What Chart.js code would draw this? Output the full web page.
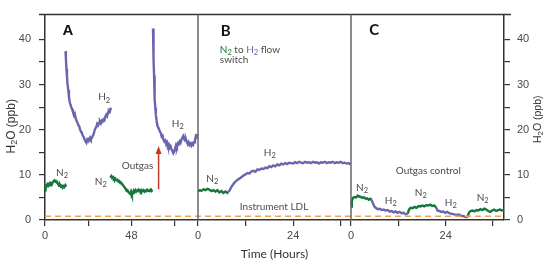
<!DOCTYPE html>
<html><head><meta charset="utf-8">
<script src="https://cdn.jsdelivr.net/npm/chart.js@4.4.0/dist/chart.umd.min.js"></script>
<style>html,body{margin:0;padding:0;background:#fff}#wrap{width:544px;height:261px;position:relative}</style>
</head><body><div id="wrap"><canvas id="c" width="544" height="261"></canvas></div>
<script>
// ---------- DATA ----------
const panelNames = ['A', 'B', 'C'];
const panelSpanHours = [85, 38.6, 38.8];
const xTickHours = [[0, 24, 48, 72], [0, 12, 24, 36], [0, 12, 24, 36]];
const xTickLabels = [['0', '', '48', ''], ['0', '', '24', ''], ['0', '', '24', '']];
const yTickValues = [0, 5, 10, 15, 20, 25, 30, 35, 40];
const yTickLabels = ['0', '', '10', '', '20', '', '30', '', '40'];
const instrumentLDL = 0.85;

// [hours, H2O ppb]
const A_N2_run1 = [[0,6.6],[0.3,7.6],[0.8,7.4],[1.3,7.9],[1.8,7.6],[2.3,8.0],[2.8,7.7],[3.3,8.1],[3.8,7.9],[4.3,8.4],[4.8,8.6],[5.3,8.8],[5.8,8.5],[6.3,8.6],[6.8,8.2],[7.3,8.0],[7.8,7.6],[8.3,7.8],[8.8,7.4],[9.3,7.6],[9.8,7.2],[10.3,7.5],[10.8,7.3],[11.3,7.7],[11.8,7.4]];
const A_H2_run1 = [[11.4,37.4],[11.6,35.8],[11.9,33.5],[12.2,31.8],[12.5,30.2],[12.9,28.8],[13.3,27.3],[13.7,26.2],[14.1,25.6],[14.6,25.0],[15.0,24.6],[15.5,24.0],[16.0,23.3],[16.5,23.6],[17.0,22.6],[17.5,22.0],[18.0,21.6],[18.5,21.0],[19.0,20.8],[19.5,20.0],[20.0,19.6],[20.5,19.2],[21.0,18.7],[21.5,18.4],[22.0,17.8],[22.5,17.4],[23.0,17.1],[23.5,17.8],[24.0,17.5],[24.5,18.0],[25.0,18.3],[25.5,17.9],[26.0,18.2],[26.5,18.6],[27.0,19.0],[27.5,19.8],[28.0,20.3],[28.5,20.6],[29.0,21.3],[29.5,21.0],[30.0,21.5],[30.5,21.8],[31.0,21.4],[31.5,22.0],[32.0,21.8],[32.5,22.3],[33.0,22.1],[33.5,22.9],[34.0,23.3],[34.5,23.0],[35.0,23.8],[35.5,24.2],[36.0,24.0],[36.6,24.9]];
const A_N2_run2 = [[36.3,9.4],[36.8,9.7],[37.3,9.3],[37.8,9.5],[38.3,9.1],[38.8,9.3],[39.3,9.0],[39.8,8.8],[40.3,8.9],[40.8,8.5],[41.3,8.6],[41.8,8.2],[42.3,8.3],[42.8,7.9],[43.3,7.8],[43.8,7.4],[44.3,7.2],[44.8,6.9],[45.3,6.5],[45.8,6.6],[46.3,6.2],[46.8,6.0],[47.3,5.8],[47.8,6.3],[48.3,5.6],[48.8,5.9],[49.3,6.5],[49.8,6.2],[50.3,6.6],[50.8,6.3],[51.3,6.5],[51.8,6.7],[52.3,6.4],[52.8,6.6],[53.3,6.3],[53.8,6.6],[54.3,6.4],[54.8,6.6],[55.3,6.3],[55.8,6.5],[56.3,6.4],[56.8,6.7],[57.3,6.5],[57.8,6.4],[58.3,6.6],[58.8,6.8],[59.3,6.5],[59.6,6.7]];
const A_H2_run2 = [[60.0,42.4],[60.2,39.0],[60.4,35.5],[60.6,32.0],[60.8,29.0],[61.0,26.8],[61.3,24.8],[61.6,23.3],[62.0,22.0],[62.4,21.0],[62.8,20.5],[63.3,20.2],[63.8,19.6],[64.3,19.3],[64.8,18.5],[65.3,18.7],[65.8,17.8],[66.3,17.4],[66.8,17.6],[67.3,16.8],[67.8,17.2],[68.3,16.4],[68.8,16.7],[69.3,16.0],[69.8,16.3],[70.3,15.6],[70.8,15.3],[71.3,14.8],[71.8,15.2],[72.3,15.9],[72.8,16.6],[73.3,16.2],[73.8,17.0],[74.3,16.8],[74.8,17.4],[75.3,17.1],[75.8,17.8],[76.3,18.2],[76.8,18.6],[77.3,18.0],[77.8,17.6],[78.3,17.9],[78.8,17.3],[79.3,16.8],[79.8,17.2],[80.3,16.6],[80.8,16.9],[81.3,16.5],[81.8,17.0],[82.3,16.7],[82.8,17.2],[83.3,17.6],[83.8,18.6],[84.3,18.4],[84.8,19.0]];
const B_N2 = [[0,6.3],[0.4,6.6],[0.9,6.5],[1.4,6.8],[1.9,6.6],[2.4,6.9],[2.9,6.7],[3.4,6.4],[3.9,6.6],[4.4,6.3],[4.9,6.6],[5.4,6.1],[5.9,6.4],[6.4,6.0],[6.9,6.3],[7.4,6.0],[7.6,6.2]];
const B_H2 = [[7.6,6.2],[8.0,6.6],[8.4,7.3],[8.8,7.8],[9.2,8.3],[9.6,8.6],[10.0,8.9],[10.5,9.2],[11.0,9.5],[11.5,9.9],[12.0,10.1],[12.5,10.4],[13.0,10.3],[13.5,10.8],[14.0,10.9],[14.5,10.7],[15.0,11.2],[15.5,11.1],[16.0,11.4],[16.5,11.3],[17.0,11.6],[17.5,11.5],[18.0,11.9],[18.5,11.7],[19.0,12.1],[19.5,11.9],[20.0,12.3],[20.5,12.1],[21.0,12.5],[21.5,12.3],[22.0,12.6],[22.5,12.4],[23.0,12.7],[23.5,12.6],[24.0,12.5],[24.5,12.8],[25.0,12.6],[25.5,12.9],[26.0,12.7],[26.5,12.6],[27.0,12.9],[27.5,12.7],[28.0,12.8],[28.5,12.6],[29.0,12.9],[29.5,12.7],[30.0,12.8],[30.5,12.5],[31.0,12.8],[31.5,12.7],[32.0,12.9],[32.5,12.6],[33.0,12.8],[33.5,12.7],[34.0,12.9],[34.5,12.6],[35.0,12.8],[35.5,12.7],[36.0,12.9],[36.5,12.6],[37.0,12.7],[37.5,12.5],[38.0,12.6],[38.5,12.3]];
const C_N2_run1 = [[0,3.0],[0.2,4.2],[0.5,4.9],[0.9,5.1],[1.3,5.0],[1.7,5.4],[2.1,5.2],[2.5,5.1],[2.9,4.9],[3.3,5.0],[3.7,4.7],[4.1,4.8],[4.5,4.5],[4.9,4.7],[5.2,4.5]];
const C_H2_run1 = [[5.2,4.5],[5.6,3.6],[6.0,2.9],[6.4,2.6],[6.8,2.4],[7.3,2.5],[7.8,2.2],[8.3,2.3],[8.8,2.1],[9.3,2.2],[9.8,1.9],[10.3,2.0],[10.8,1.7],[11.3,1.9],[11.8,1.6],[12.3,1.8],[12.8,1.5],[13.3,1.6],[13.8,1.3],[14.4,1.4]];
const C_N2_run2 = [[14.4,1.4],[14.7,2.3],[15.1,2.7],[15.6,2.6],[16.1,2.9],[16.6,2.7],[17.1,3.1],[17.6,3.0],[18.1,3.2],[18.6,3.0],[19.1,3.3],[19.6,3.2],[20.1,3.4],[20.6,3.1],[21.1,3.2],[21.6,2.8]];
const C_H2_run2 = [[21.6,2.8],[21.9,2.1],[22.4,2.0],[22.9,1.8],[23.4,1.9],[23.9,1.6],[24.4,1.8],[24.9,1.5],[25.4,1.4],[25.9,1.3],[26.4,1.2],[26.9,1.1],[27.4,1.2],[27.9,0.9],[28.4,0.9],[28.9,0.7],[29.5,0.6]];
const C_N2_run3 = [[29.5,0.6],[29.9,1.6],[30.3,2.0],[30.8,2.1],[31.3,1.9],[31.8,2.2],[32.3,2.1],[32.8,2.4],[33.3,2.2],[33.8,2.5],[34.3,2.3],[34.8,2.0],[35.3,1.8],[35.8,2.1],[36.3,2.3],[36.8,2.0],[37.3,2.2],[37.8,2.3],[38.3,2.1],[38.8,2.2]];
// outgas arrow in panel A: [hours, from ppb, to ppb]
const outgasArrow = [63.1, 6.8, 16.4];

// ---------- STYLE / LAYOUT ----------
const COL_H2 = '#6966af', COL_N2 = '#17763b', COL_LDL = '#f2a24e', COL_TXT = '#4a4a4a', COL_AX = '#333';
function toX(panel, h) { return panel + h / panelSpanHours[panel]; }
const series = [
  [0, A_N2_run1, COL_N2], [0, A_H2_run1, COL_H2], [0, A_N2_run2, COL_N2], [0, A_H2_run2, COL_H2],
  [1, B_N2, COL_N2], [1, B_H2, COL_H2],
  [2, C_N2_run1, COL_N2], [2, C_H2_run1, COL_H2], [2, C_N2_run2, COL_N2], [2, C_H2_run2, COL_H2], [2, C_N2_run3, COL_N2]
];
const datasets = series.map(([p, d, c]) => ({
  data: d.map(([h, v]) => ({x: toX(p, h), y: v})),
  borderColor: c, borderWidth: 2.4, pointRadius: 0, tension: 0, fill: false, clip: 2
}));
datasets.unshift({data: [{x: 0, y: instrumentLDL}, {x: 3, y: instrumentLDL}], borderColor: COL_LDL, borderWidth: 1.5, borderDash: [6, 4], pointRadius: 0});

const xTicks = [], xLabels = [];
xTickHours.forEach((arr, p) => arr.forEach((h, i) => { xTicks.push(toX(p, h)); xLabels.push(xTickLabels[p][i]); }));

const S = (t) => ({t, sub: true});
const annotations = [
  {p: 0, h: 12.8, v: 42.0, parts: [{t: 'A'}], font: 'bold 15px "Liberation Sans"', color: '#111'},
  {p: 1, h: 7.0, v: 41.8, parts: [{t: 'B'}], font: 'bold 15px Lato', color: '#111'},
  {p: 2, h: 5.9, v: 42.1, parts: [{t: 'C'}], font: 'bold 15px Lato', color: '#111'},
  {p: 0, h: 32.9, v: 27.2, parts: [{t: 'H'}, S('2')]},
  {p: 0, h: 73.8, v: 21.3, parts: [{t: 'H'}, S('2')]},
  {p: 0, h: 9.5, v: 10.4, parts: [{t: 'N'}, S('2')]},
  {p: 0, h: 31.0, v: 8.5, parts: [{t: 'N'}, S('2')]},
  {p: 0, h: 51.4, v: 11.9, parts: [{t: 'Outgas'}]},
  {p: 1, h: 5.5, v: 37.7, align: 'left', parts: [{t: 'N', c: COL_N2}, {t: '2', sub: true, c: COL_N2}, {t: ' to '}, {t: 'H', c: COL_H2}, {t: '2', sub: true, c: COL_H2}, {t: ' flow'}]},
  {p: 1, h: 5.5, v: 35.6, align: 'left', parts: [{t: 'switch'}]},
  {p: 1, h: 3.6, v: 9.1, parts: [{t: 'N'}, S('2')]},
  {p: 1, h: 18.1, v: 14.9, parts: [{t: 'H'}, S('2')]},
  {p: 1, h: 19.2, v: 3.0, parts: [{t: 'Instrument LDL'}]},
  {p: 2, h: 19.6, v: 10.9, parts: [{t: 'Outgas control'}]},
  {p: 2, h: 2.8, v: 7.1, parts: [{t: 'N'}, S('2')]},
  {p: 2, h: 10.1, v: 4.3, parts: [{t: 'H'}, S('2')]},
  {p: 2, h: 17.7, v: 6.0, parts: [{t: 'N'}, S('2')]},
  {p: 2, h: 25.3, v: 3.8, parts: [{t: 'H'}, S('2')]},
  {p: 2, h: 33.4, v: 4.9, parts: [{t: 'N'}, S('2')]}
];

function drawRich(ctx, parts, x, y, align, font, subFont, color, subDy) {
  let w = 0;
  parts.forEach(pt => { ctx.font = pt.sub ? subFont : font; w += ctx.measureText(pt.t).width; });
  let cx = align === 'left' ? x : x - w / 2;
  ctx.textBaseline = 'middle'; ctx.textAlign = 'left';
  parts.forEach(pt => {
    ctx.font = pt.sub ? subFont : font;
    ctx.fillStyle = pt.c || color;
    ctx.fillText(pt.t, cx, pt.sub ? y + (subDy || 3) : y);
    cx += ctx.measureText(pt.t).width;
  });
}

const overlay = {
  id: 'overlay',
  afterDraw(chart) {
    const ctx = chart.ctx, a = chart.chartArea, xs = chart.scales.x, ys = chart.scales.y;
    ctx.save();
    // top frame
    ctx.strokeStyle = COL_AX; ctx.lineWidth = 1.5;
    ctx.beginPath(); ctx.moveTo(a.left - 6, a.top); ctx.lineTo(a.right + 7, a.top); ctx.stroke();
    // panel dividers
    ctx.strokeStyle = '#666'; ctx.lineWidth = 1.5;
    [1, 2].forEach(v => { const px = xs.getPixelForValue(v); ctx.beginPath(); ctx.moveTo(px, a.top); ctx.lineTo(px, a.bottom); ctx.stroke(); });
    // arrow
    const ax = xs.getPixelForValue(toX(0, outgasArrow[0])), ay0 = ys.getPixelForValue(outgasArrow[1]), ay1 = ys.getPixelForValue(outgasArrow[2]);
    ctx.strokeStyle = '#c23a2c'; ctx.fillStyle = '#c23a2c'; ctx.lineWidth = 1.5;
    ctx.beginPath(); ctx.moveTo(ax, ay0); ctx.lineTo(ax, ay1 + 6); ctx.stroke();
    ctx.beginPath(); ctx.moveTo(ax, ay1); ctx.lineTo(ax - 3, ay1 + 8); ctx.lineTo(ax + 3, ay1 + 8); ctx.closePath(); ctx.fill();
    // annotations
    annotations.forEach(an => {
      const px = xs.getPixelForValue(toX(an.p, an.h)), py = ys.getPixelForValue(an.v);
      drawRich(ctx, an.parts, px, py, an.align, an.font || '10px Lato', '7.5px Lato', an.color || COL_TXT, 3);
    });
    // axis titles
    const tParts = [{t: 'H'}, {t: '2', sub: true}, {t: 'O (ppb)'}];
    const cy = (a.top + a.bottom) / 2 + 9;
    ctx.save(); ctx.translate(12, cy); ctx.rotate(-Math.PI / 2);
    drawRich(ctx, tParts, 0, 0, 'center', '12px "Liberation Sans"', '9px "Liberation Sans"', '#333', 3);
    ctx.restore();
    ctx.save(); ctx.translate(538.5, cy - 7); ctx.rotate(-Math.PI / 2);
    drawRich(ctx, tParts, 0, 0, 'center', '10.5px "Liberation Sans"', '8px "Liberation Sans"', '#333', 2.5);
    ctx.restore();
    ctx.restore();
  }
};

const yAxis = (pos, width, pad) => ({
  type: 'linear', position: pos, min: 0, max: 45.5,
  afterBuildTicks: s => { s.ticks = yTickValues.map(v => ({value: v})); },
  afterFit: s => { s.width = width; },
  ticks: {callback: (v, i) => yTickLabels[i], color: COL_TXT, font: {family: 'Liberation Sans', size: 11}, padding: pad, autoSkip: false},
  grid: {drawOnChartArea: false, drawTicks: true, tickLength: 6, color: COL_AX, lineWidth: 1.2},
  border: {color: COL_AX, width: 1.5}
});

new Chart(document.getElementById('c'), {
  type: 'line',
  data: {datasets},
  plugins: [overlay],
  options: {
    responsive: false, animation: false, devicePixelRatio: 1,
    layout: {padding: {top: 6, left: 0, right: 0, bottom: 0}},
    plugins: {legend: {display: false}, tooltip: {enabled: false}},
    scales: {
      x: {
        type: 'linear', min: 0, max: 3,
        afterBuildTicks: s => { s.ticks = xTicks.map(v => ({value: v})); },
        afterFit: s => { s.height = 41; },
        ticks: {callback: (v, i) => xLabels[i], autoSkip: false, maxRotation: 0, color: COL_TXT, font: {family: 'Liberation Sans', size: 11}, padding: 3},
        grid: {drawOnChartArea: false, drawTicks: true, tickLength: 6, color: COL_AX, lineWidth: 1.2},
        border: {color: COL_AX, width: 1.5},
        title: {display: true, text: 'Time (Hours)', color: '#333', font: {family: 'Lato', size: 12}, padding: {top: 4, bottom: 0}}
      },
      y: yAxis('left', 45, 8),
      y2: yAxis('right', 40, 7)
    }
  }
});
</script>
</body></html>
